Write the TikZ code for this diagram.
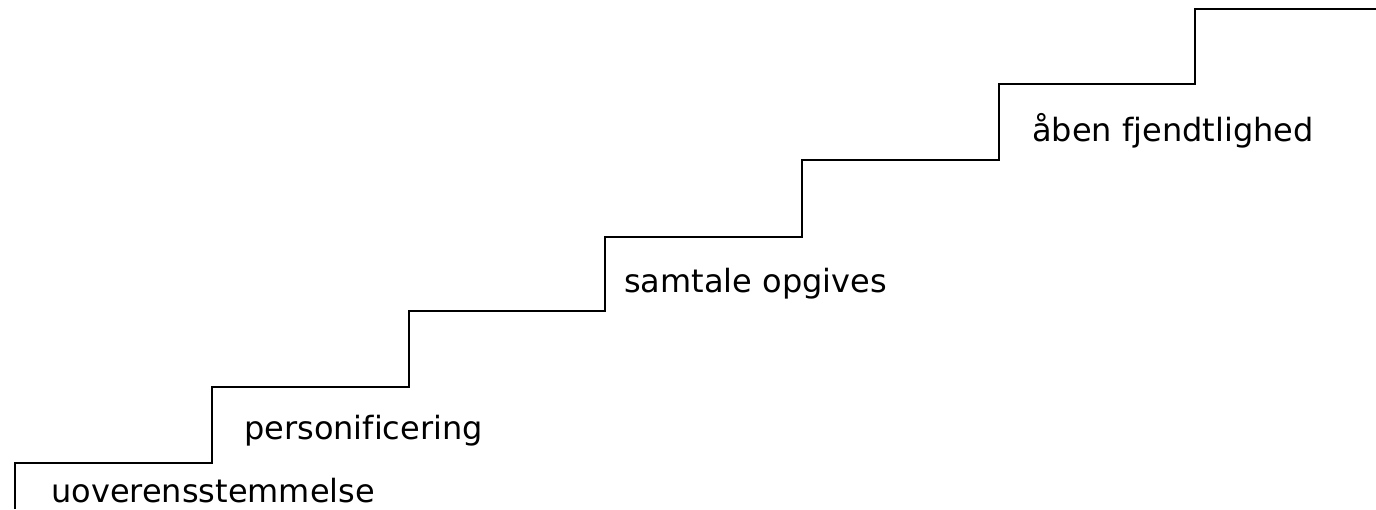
\documentclass[tikz,border=0pt]{standalone}
\usepackage{fontspec}
\setmainfont[Ligatures=NoCommon]{DejaVu Sans}
\begin{document}
\begin{tikzpicture}[x=1pt,y=-1pt,
  stair/.style={draw=black,line width=2pt,line join=miter},
  steplabel/.style={anchor=base west,inner sep=0pt,font=\fontsize{32}{38}\selectfont}]
\useasboundingbox (0,0) rectangle (1376,509);
\coordinate (s0) at (15,509);
\coordinate (s1) at (1376,9);
\draw[stair] (s0) |- (212,463) |- (409,387) |- (605,311) |- (802,237) |- (999,160) |- (1195,84) |- (s1);
\node[steplabel] (t1) at (51,502) {uoverensstemmelse};
\node[steplabel] (t2) at (244,439) {personificering};
\node[steplabel] (t3) at (624,292) {samtale opgives};
\node[steplabel] (t4) at (1032,141) {åben fjendtlighed};
\end{tikzpicture}
\end{document}
